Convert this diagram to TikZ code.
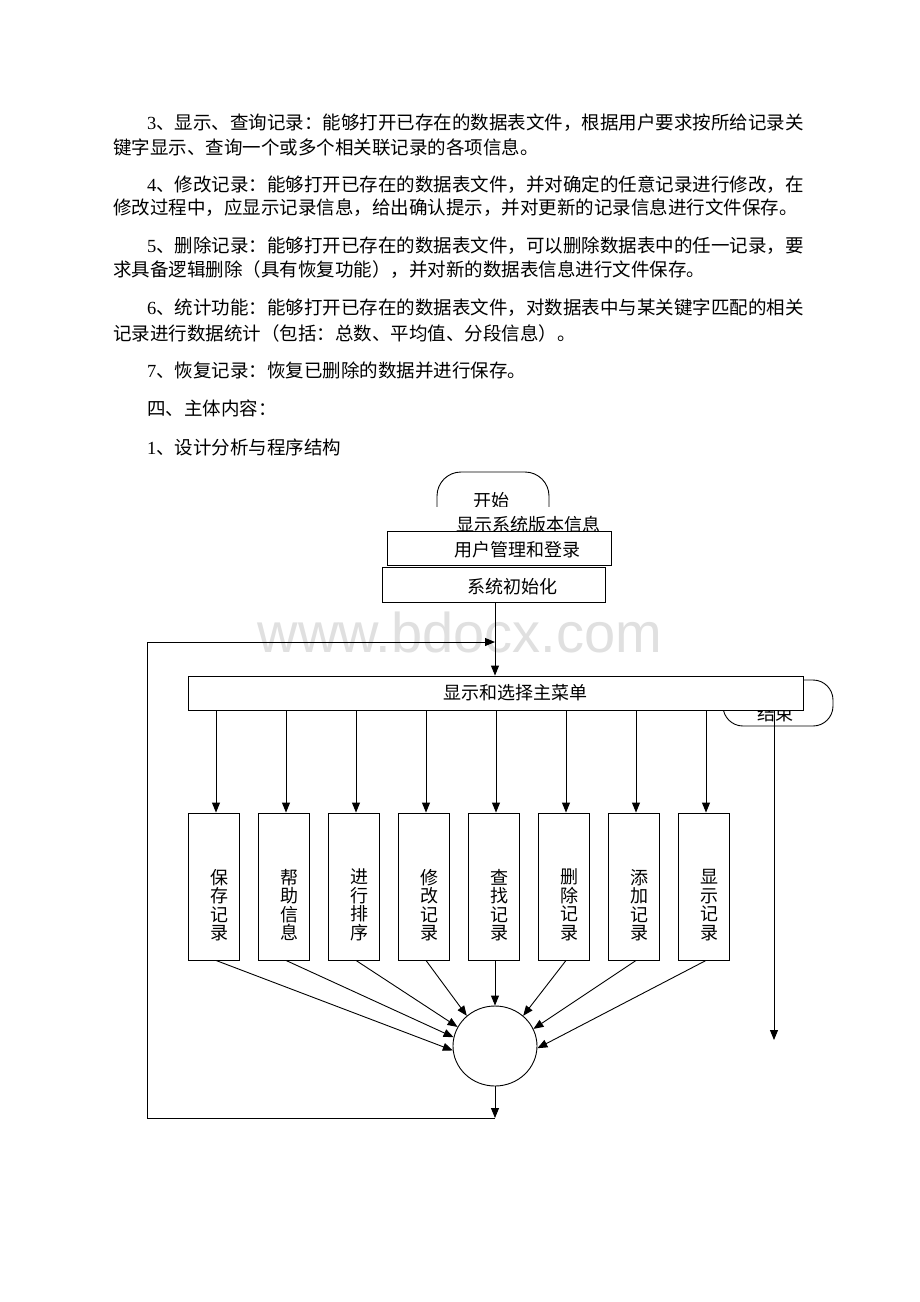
\documentclass[tikz,border=0pt]{standalone}
\usepackage{fontspec}
\setmainfont{Liberation Serif}
\newfontfamily\cjk{Noto Sans CJK SC}
\newfontfamily\wmfont{Liberation Sans}
\usetikzlibrary{arrows.meta,shapes.geometric}
\begin{document}
\begin{tikzpicture}[x=1pt,y=-1pt,
  para/.style={anchor=west, inner sep=0pt, font=\cjk\fontsize{18.5}{22}\selectfont},
  fc/.style={inner sep=0pt, font=\cjk\fontsize{18}{22}\selectfont},
  vt/.style={inner sep=0pt, align=center, font=\cjk\fontsize{18}{18.5}\selectfont},
  boxx/.style={draw, fill=white, line width=0.9pt, inner sep=0pt},
  arr/.style={-{Triangle[length=10pt,width=8pt]}, line width=0.9pt},
  cover/.style={fill=white, inner sep=0pt}]
\useasboundingbox (0,0) rectangle (920,1302);
\fill[white] (0,0) rectangle (920,1302);

% watermark
\node[anchor=base, inner sep=0pt, text=black!12, font=\wmfont\fontsize{56}{60}\selectfont] (wm) at (460,652) {www.bdocx.com};

% paragraphs
\node[para] (p1) at (147,123) {{\rmfamily 3}、显示、查询记录：能够打开已存在的数据表文件，根据用户要求按所给记录关};
\node[para] (p2) at (113,147) {键字显示、查询一个或多个相关联记录的各项信息。};
\node[para] (p3) at (147,185) {{\rmfamily 4}、修改记录：能够打开已存在的数据表文件，并对确定的任意记录进行修改，在};
\node[para] (p4) at (113,208) {修改过程中，应显示记录信息，给出确认提示，并对更新的记录信息进行文件保存。};
\node[para] (p5) at (147,246) {{\rmfamily 5}、删除记录：能够打开已存在的数据表文件，可以删除数据表中的任一记录，要};
\node[para] (p6) at (113,270) {求具备逻辑删除（具有恢复功能），并对新的数据表信息进行文件保存。};
\node[para] (p7) at (147,308) {{\rmfamily 6}、统计功能：能够打开已存在的数据表文件，对数据表中与某关键字匹配的相关};
\node[para] (p8) at (113,333) {记录进行数据统计（包括：总数、平均值、分段信息）。};
\node[para] (p9) at (147,370) {{\rmfamily 7}、恢复记录：恢复已删除的数据并进行保存。};
\node[para] (p10) at (147,408) {四、主体内容：};
\node[para] (p11) at (147,447) {{\rmfamily 1}、设计分析与程序结构};

% top of flowchart
\node[draw, fill=white, line width=0.9pt, rounded corners=24pt, minimum width=112pt, minimum height=70pt, inner sep=0pt] (start) at (493,507) {};
\node[fc] (starttxt) at (491,501) {开始};
\node[cover, minimum width=190pt, minimum height=24pt] (ver) at (525,519) {};
\node[fc] (vertxt) at (528,525) {显示系统版本信息};
\node[boxx, minimum width=224pt, minimum height=34pt] (user) at (499,548) {};
\node[fc] (usertxt) at (517,550) {用户管理和登录};
\node[boxx, minimum width=223pt, minimum height=35pt] (init) at (493.5,584.5) {};
\node[fc] (inittxt) at (512,587) {系统初始化};

% end terminal and main menu bar
\node[draw, fill=white, line width=0.9pt, rounded corners=20pt, minimum width=110pt, minimum height=46pt, inner sep=0pt] (endn) at (778,703) {};
\node[fc] (endtxt) at (775,714) {结束};
\node[boxx, minimum width=615pt, minimum height=34pt] (menu) at (495.5,693) {};
\node[fc] (menutxt) at (515,693) {显示和选择主菜单};

% function boxes
\node[boxx, minimum width=51pt, minimum height=147pt] (b1) at (214,886.5) {};
\node[boxx, minimum width=51pt, minimum height=147pt] (b2) at (284,886.5) {};
\node[boxx, minimum width=51pt, minimum height=147pt] (b3) at (354,886.5) {};
\node[boxx, minimum width=51pt, minimum height=147pt] (b4) at (424,886.5) {};
\node[boxx, minimum width=51pt, minimum height=147pt] (b5) at (494,886.5) {};
\node[boxx, minimum width=51pt, minimum height=147pt] (b6) at (564,886.5) {};
\node[boxx, minimum width=51pt, minimum height=147pt] (b7) at (634,886.5) {};
\node[boxx, minimum width=51pt, minimum height=147pt] (b8) at (704,886.5) {};
\node[vt] (t1) at (219,905) {保\\存\\记\\录};
\node[vt] (t2) at (289,905) {帮\\助\\信\\息};
\node[vt] (t3) at (359,905) {进\\行\\排\\序};
\node[vt] (t4) at (429,905) {修\\改\\记\\录};
\node[vt] (t5) at (499,905) {查\\找\\记\\录};
\node[vt] (t6) at (569,905) {删\\除\\记\\录};
\node[vt] (t7) at (639,905) {添\\加\\记\\录};
\node[vt] (t8) at (709,905) {显\\示\\记\\录};

% junction circle
\node[draw, ellipse, line width=0.9pt, minimum width=84pt, minimum height=80pt, inner sep=0pt] (c) at (495,1046) {};

% coordinates
\coordinate (bc) at (495,1118);
\coordinate (lb) at (147,1118);
\coordinate (lt) at (147,642);
\coordinate (j) at (495,642);
\coordinate (ex) at (774,1040);

% connectors
\draw[arr] (j |- init.south) -- (j |- menu.north);
\draw[arr] (bc) -- (lb) -- (lt) -- (j);
\draw[arr] (ex |- menu.south) -- (ex);
\foreach \k in {1,...,8} {
  \draw[arr] ([xshift=2pt]b\k.north |- menu.south) -- ([xshift=2pt]b\k.north);
}
\draw[arr] ([xshift=2pt]b1.south) -- (c.186);
\draw[arr] ([xshift=2pt]b2.south) -- (c.168);
\draw[arr] ([xshift=2pt]b3.south) -- (c.153);
\draw[arr] ([xshift=2pt]b4.south) -- (c.133);
\draw[arr] (b5.south -| c.north) -- (c.north);
\draw[arr] ([xshift=2pt]b6.south) -- (c.47);
\draw[arr] ([xshift=2pt]b7.south) -- (c.24);
\draw[arr] ([xshift=2pt]b8.south) -- (c.357);
\draw[arr] (c.south) -- (bc);
\end{tikzpicture}
\end{document}
